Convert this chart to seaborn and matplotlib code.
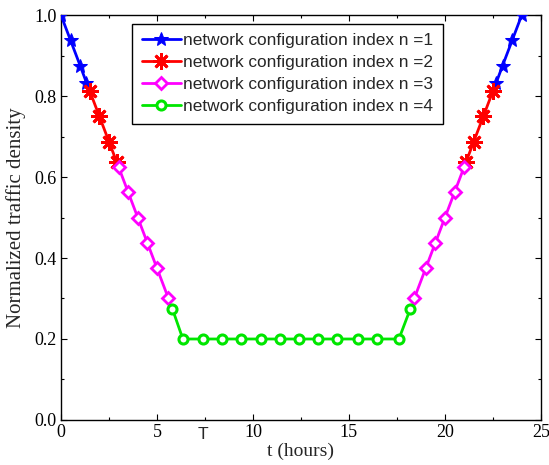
import numpy as np
import pandas as pd
import matplotlib
matplotlib.use("Agg")
import matplotlib.pyplot as plt
import seaborn as sns
from matplotlib.ticker import MultipleLocator
from matplotlib.transforms import blended_transform_factory

# ---- data ----
blue_left_t = [0.0, 0.5, 1.0, 1.33]
blue_left_y = [1.0, 0.9375, 0.875, 0.833]
blue_right_t = [22.67, 23.0, 23.5, 24.0]
blue_right_y = [0.833, 0.875, 0.9375, 1.0]

red_left_t = [1.5, 2.0, 2.5, 2.9]
red_left_y = [0.8125, 0.75, 0.6875, 0.6375]
red_right_t = [21.1, 21.5, 22.0, 22.5]
red_right_y = [0.6375, 0.6875, 0.75, 0.8125]

mag_left_t = [3.0, 3.5, 4.0, 4.5, 5.0, 5.6]
mag_left_y = [0.625, 0.5625, 0.5, 0.4375, 0.375, 0.30]
mag_right_t = [18.4, 19.0, 19.5, 20.0, 20.5, 21.0]
mag_right_y = [0.30, 0.375, 0.4375, 0.5, 0.5625, 0.625]

green_t = [5.8, 6.35, 7.4, 8.4, 9.4, 10.4, 11.4, 12.4, 13.4, 14.4, 15.45, 16.45, 17.6, 18.2]
green_y = [0.275, 0.2, 0.2, 0.2, 0.2, 0.2, 0.2, 0.2, 0.2, 0.2, 0.2, 0.2, 0.2, 0.275]

labels = ["network configuration index n =1", "network configuration index n =2",
          "network configuration index n =3", "network configuration index n =4"]
x_ticks = [0, 5, 10, 15, 20, 25]
y_ticks = [0.0, 0.2, 0.4, 0.6, 0.8, 1.0]
marker_label_x = 7.4

sns.set_theme(style="white")
plt.rcParams["font.family"] = ["Liberation Serif", "DejaVu Serif"]

fig = plt.figure(figsize=(5.49, 4.65), dpi=100)
ax = fig.add_axes([0.111, 0.0968, 0.8744, 0.8709])

styles = [
    dict(color="#0000ff", marker="*", markersize=10, markerfacecolor="#0000ff", markeredgecolor="#0000ff"),
    dict(color="#ff0000", marker=(8, 2, 0), markersize=12, markeredgewidth=2.0, markeredgecolor="#ff0000"),
    dict(color="#ff00ff", marker="D", markersize=6.3, markerfacecolor="white", markeredgewidth=2.0, markeredgecolor="#ff00ff"),
    dict(color="#00e600", marker="o", markersize=6.5, markerfacecolor="white", markeredgewidth=2.2, markeredgecolor="#00e600"),
]
pieces = [
    (0, blue_left_t, blue_left_y, True), (0, blue_right_t, blue_right_y, False),
    (1, red_left_t, red_left_y, True), (1, red_right_t, red_right_y, False),
    (2, mag_left_t, mag_left_y, True), (2, mag_right_t, mag_right_y, False),
    (3, green_t, green_y, True),
]
for i, (k, t, y, lab) in enumerate(pieces):
    df = pd.DataFrame({"t": t, "y": y})
    sns.lineplot(data=df, x="t", y="y", ax=ax, linewidth=2.0, sort=False,
                 label=labels[k] if lab else None, legend=bool(lab), zorder=3 + i,
                 **styles[k])

ax.set_xlim(0, 25)
ax.set_ylim(0, 1.0)
ax.set_xticks(x_ticks)
ax.set_xticklabels([str(v) for v in x_ticks])
ax.set_yticks(y_ticks)
ax.set_yticklabels([f"{v:.1f}" for v in y_ticks])
ax.xaxis.set_minor_locator(MultipleLocator(2.5))
ax.yaxis.set_minor_locator(MultipleLocator(0.1))
ax.tick_params(which="both", direction="in", top=True, right=True, bottom=True, left=True,
               labelsize=13, colors="black", pad=3)
ax.tick_params(which="major", length=4, width=0.8)
ax.tick_params(which="minor", length=2.5, width=0.8)
for s in ax.spines.values():
    s.set_color("black")
    s.set_linewidth(1.0)

ax.set_xlabel("t (hours)", fontsize=14, labelpad=1)
ax.set_ylabel("Normalized traffic density", fontsize=15, labelpad=6)

trans = blended_transform_factory(ax.transData, ax.transAxes)
ax.text(marker_label_x, -0.018, "T", transform=trans, ha="center", va="top",
        fontsize=12.5, family=["Liberation Sans", "DejaVu Sans"])

leg = ax.legend(loc="upper left", bbox_to_anchor=(0.149, 0.978), frameon=True, fancybox=False,
                edgecolor="black", framealpha=1, handlelength=2.25, handletextpad=0.15,
                borderpad=0.55, labelspacing=0.4, borderaxespad=0,
                prop={"family": ["Liberation Sans", "DejaVu Sans"], "size": 12.4})
leg.get_frame().set_linewidth(1.0)

fig.savefig("out.png", dpi=100)
